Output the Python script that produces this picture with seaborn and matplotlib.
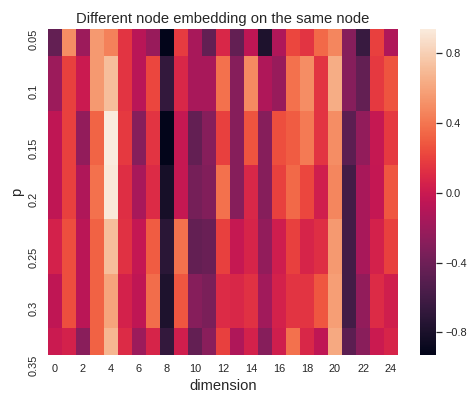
import numpy as np
import pandas as pd
import matplotlib
matplotlib.use("Agg")
import matplotlib.pyplot as plt
import seaborn as sns

p_labels = ["0.05", "0.1", "0.15", "0.2", "0.25", "0.3", "0.35"]
dimensions = list(range(25))

row_005 = [-0.45, 0.50, -0.20, 0.55, 0.45, 0.15, -0.08, -0.22, -0.93, 0.18, -0.15, -0.45, 0.08,
           -0.45, -0.05, -0.78, -0.12, 0.22, 0.15, 0.35, 0.47, -0.30, -0.65, 0.20, -0.12]
row_010 = [-0.20, 0.20, 0.00, 0.55, 0.72, 0.15, -0.08, 0.22, -0.68, 0.08, -0.15, -0.15, 0.38,
           -0.30, 0.48, -0.12, -0.22, 0.38, 0.50, 0.15, 0.64, -0.30, -0.45, 0.17, 0.27]
row_015 = [-0.05, 0.20, -0.25, 0.33, 0.94, 0.17, -0.30, 0.15, -0.93, -0.02, -0.45, -0.30, 0.20,
           -0.30, 0.27, -0.30, 0.25, 0.30, 0.42, 0.15, 0.50, -0.48, -0.25, -0.02, 0.17]
row_020 = [-0.05, 0.20, -0.12, 0.38, 0.92, 0.12, -0.15, 0.10, -0.82, -0.02, -0.37, -0.32, 0.38,
           -0.30, 0.08, -0.30, 0.20, 0.35, 0.22, 0.03, 0.47, -0.60, -0.15, -0.03, 0.28]
row_025 = [0.05, 0.25, -0.07, 0.32, 0.72, 0.13, -0.03, 0.30, -0.72, 0.38, -0.45, -0.42, 0.20,
           -0.02, 0.07, -0.25, 0.02, 0.20, 0.07, 0.12, 0.55, -0.60, -0.15, 0.05, 0.20]
row_030 = [-0.05, 0.25, -0.07, 0.32, 0.60, 0.05, -0.05, 0.37, -0.78, 0.28, -0.30, -0.35, 0.10,
           0.08, 0.13, -0.18, 0.05, 0.15, 0.15, 0.28, 0.57, -0.60, -0.25, 0.10, 0.03]
row_035 = [0.00, 0.05, -0.28, 0.32, 0.68, 0.10, -0.20, 0.07, -0.68, 0.03, -0.45, -0.28, 0.20,
           -0.12, 0.05, -0.30, 0.03, 0.38, 0.08, -0.05, 0.62, -0.48, -0.28, 0.00, 0.07]

data = pd.DataFrame([row_005, row_010, row_015, row_020, row_025, row_030, row_035],
                    index=p_labels, columns=dimensions)
data.index.name = "p"
data.columns.name = "dimension"

sns.set_theme()
plt.rcParams["font.family"] = ["Liberation Sans", "DejaVu Sans"]

fig = plt.figure(figsize=(474 / 72, 396 / 72), dpi=72)
ax = fig.add_axes([48 / 474, 41 / 396, 350 / 474, 326 / 396])
cax = fig.add_axes([420 / 474, 41 / 396, 16 / 474, 326 / 396])

sns.heatmap(data, ax=ax, cbar_ax=cax, cmap="rocket", xticklabels=2, yticklabels=True,
            cbar_kws={"ticks": [-0.8, -0.4, 0.0, 0.4, 0.8]})
cax.set_yticklabels(["\u22120.8", "\u22120.4", "0.0", "0.4", "0.8"])
ax.set_ylim(6.5, 0.5)
ax.set_yticks(np.arange(7) + 0.5)
ax.set_yticklabels(p_labels, rotation=90, va="top")
ax.set_title("Different node embedding on the same node", fontsize=14.8)
ax.set_xlabel("dimension", fontsize=14.8)
ax.set_ylabel("p", fontsize=14.8)

fig.savefig("out.png", dpi=72)
